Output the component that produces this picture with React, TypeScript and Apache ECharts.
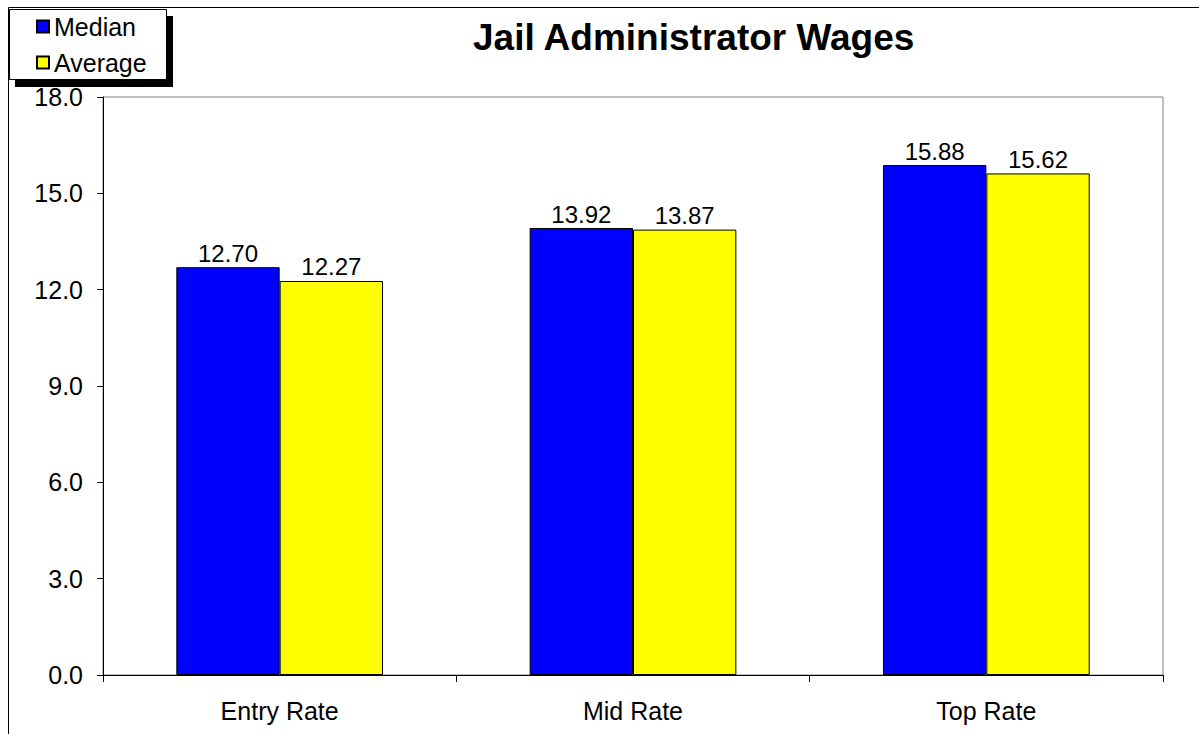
import React, { useEffect, useRef } from "react";
import * as echarts from "echarts";

const categories = ["Entry Rate", "Mid Rate", "Top Rate"];
const medianValues = [12.7, 13.92, 15.88];
const averageValues = [12.27, 13.87, 15.62];
const seriesNames = ["Median", "Average"];
const titleText = "Jail Administrator Wages";

const FONT = "Arial, 'Liberation Sans', Helvetica, sans-serif";

export default function App() {
  const ref = useRef<HTMLDivElement>(null);
  useEffect(() => {
    if (!ref.current) return;
    const chart = echarts.init(ref.current, null, { renderer: "svg" });
    const labelStyle = {
      show: true,
      position: "top" as const,
      distance: 2,
      color: "#000",
      fontSize: 24,
      fontFamily: FONT,
      formatter: (p: any) => Number(p.value).toFixed(2),
    };
    chart.setOption({
      animation: false,
      backgroundColor: "#fff",
      textStyle: { fontFamily: FONT },
      title: {
        text: titleText,
        left: 473,
        top: 19,
        padding: 0,
        textStyle: { fontSize: 37, fontWeight: "bold", color: "#000", fontFamily: FONT },
      },
      graphic: [
        {
          type: "rect",
          shape: { x: 8.5, y: 7.5, width: 1400, height: 900 },
          style: { fill: "none", stroke: "#000", lineWidth: 1 },
          silent: true,
          z: 0,
        },
        {
          type: "rect",
          shape: { x: 15, y: 16, width: 158, height: 71 },
          style: { fill: "#000" },
          z: 10,
        },
        {
          type: "rect",
          shape: { x: 9.5, y: 9.5, width: 157, height: 70 },
          style: { fill: "#fff", stroke: "#000", lineWidth: 1 },
          z: 11,
        },
      ],
      legend: {
        data: seriesNames,
        orient: "vertical",
        left: 36,
        top: 14,
        padding: 0,
        itemWidth: 12,
        itemHeight: 12,
        itemGap: 11,
        icon: "rect",
        z: 20,
        textStyle: { fontSize: 25, color: "#000", fontFamily: FONT },
      },
      grid: {
        left: 103,
        top: 97,
        width: 1060,
        height: 578,
        show: true,
        borderColor: "#808080",
        borderWidth: 1,
        containLabel: false,
      },
      xAxis: {
        type: "category",
        data: categories,
        axisLine: { show: true, lineStyle: { color: "#000", width: 1 } },
        axisTick: { show: true, length: 7, lineStyle: { color: "#000" } },
        axisLabel: { color: "#000", fontSize: 25, margin: 23, fontFamily: FONT },
      },
      yAxis: {
        type: "value",
        min: 0,
        max: 18,
        interval: 3,
        splitLine: { show: false },
        axisLine: { show: true, lineStyle: { color: "#000", width: 1 } },
        axisTick: { show: true, length: 6, lineStyle: { color: "#000" } },
        axisLabel: {
          color: "#000",
          fontSize: 25,
          margin: 20,
          fontFamily: FONT,
          formatter: (v: number) => v.toFixed(1),
        },
      },
      series: [
        {
          name: seriesNames[0],
          type: "bar",
          data: medianValues,
          barGap: "0%",
          barCategoryGap: "41.5%",
          itemStyle: { color: "#0000FF", borderColor: "#000", borderWidth: 1 },
          label: labelStyle,
        },
        {
          name: seriesNames[1],
          type: "bar",
          data: averageValues,
          barGap: "0%",
          barCategoryGap: "41.5%",
          itemStyle: { color: "#FFFF00", borderColor: "#000", borderWidth: 1 },
          label: labelStyle,
        },
      ],
    });
    return () => chart.dispose();
  }, []);
  return (
    <div
      ref={ref}
      style={{ position: "absolute", left: 0, top: 0, width: 1199, height: 734 }}
    />
  );
}
